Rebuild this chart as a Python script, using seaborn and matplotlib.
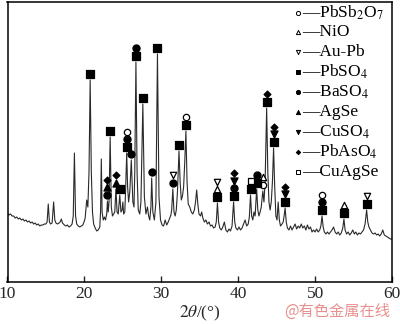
import numpy as np
import pandas as pd
import matplotlib
matplotlib.use("Agg")
import matplotlib.pyplot as plt
import seaborn as sns

# XRD pattern: (2theta in degrees, intensity in arbitrary units)
pattern_points = [
    (10.0, 69), (10.2, 67), (10.4, 68), (10.6, 66), (10.8, 66), (11.0, 64), (11.2, 65),
    (11.4, 63), (11.6, 64), (11.8, 62), (12.0, 63), (12.2, 61), (12.4, 62), (12.6, 60),
    (12.8, 61), (13.0, 59), (13.2, 60), (13.4, 58), (13.6, 59), (13.8, 57), (14.0, 58),
    (14.2, 56), (14.4, 57), (14.6, 57), (14.8, 58), (15.0, 58), (15.15, 60), (15.3, 78),
    (15.45, 60), (15.6, 58), (15.8, 59), (16.0, 80), (16.15, 62), (16.3, 59), (16.5, 58),
    (16.7, 59), (16.85, 60), (17.0, 63), (17.15, 59), (17.4, 57), (17.6, 56), (17.8, 57),
    (18.0, 55), (18.2, 56), (18.4, 58), (18.55, 66), (18.7, 129), (18.85, 66), (19.0, 58),
    (19.2, 56), (19.4, 55), (19.6, 56), (19.8, 57), (19.95, 60), (20.1, 64), (20.3, 82),
    (20.45, 75), (20.6, 110), (20.75, 202), (20.9, 110), (21.05, 70), (21.2, 58), (21.4, 54),
    (21.6, 51), (21.8, 52), (22.0, 55), (22.1, 70), (22.2, 123), (22.3, 70), (22.45, 62),
    (22.6, 65), (22.75, 62), (22.9, 68), (23.0, 81), (23.1, 70), (23.2, 80), (23.35, 145),
    (23.5, 75), (23.65, 66), (23.8, 68), (23.95, 70), (24.1, 93), (24.25, 70), (24.4, 68),
    (24.6, 87), (24.75, 70), (24.9, 72), (25.0, 80), (25.1, 68), (25.25, 70), (25.35, 90),
    (25.5, 129), (25.62, 95), (25.75, 80), (25.9, 90), (26.1, 122), (26.3, 80), (26.45, 75),
    (26.55, 110), (26.7, 220), (26.85, 110), (27.0, 72), (27.2, 68), (27.35, 80), (27.6, 178),
    (27.8, 85), (28.0, 68), (28.2, 75), (28.35, 66), (28.5, 62), (28.65, 75), (28.75, 104),
    (28.9, 70), (29.1, 62), (29.3, 80), (29.5, 228), (29.7, 85), (29.9, 62), (30.1, 57),
    (30.3, 56), (30.5, 62), (30.7, 57), (30.9, 60), (31.1, 64), (31.25, 67), (31.35, 72),
    (31.5, 93), (31.65, 70), (31.8, 66), (31.95, 72), (32.1, 90), (32.3, 131), (32.45, 100),
    (32.6, 82), (32.75, 86), (32.9, 95), (33.05, 120), (33.2, 151), (33.35, 100), (33.5, 78),
    (33.7, 75), (33.9, 70), (34.1, 68), (34.3, 72), (34.45, 80), (34.6, 92), (34.75, 78),
    (34.9, 68), (35.1, 66), (35.25, 70), (35.4, 64), (35.6, 60), (35.8, 62), (36.0, 58),
    (36.2, 60), (36.4, 56), (36.6, 57), (36.8, 54), (37.0, 55), (37.15, 60), (37.3, 79),
    (37.45, 60), (37.6, 54), (37.8, 52), (38.0, 55), (38.2, 60), (38.4, 52), (38.6, 50),
    (38.8, 53), (39.0, 51), (39.2, 56), (39.4, 80), (39.55, 60), (39.7, 54), (39.9, 52),
    (40.1, 55), (40.3, 52), (40.5, 54), (40.7, 58), (40.9, 62), (41.1, 56), (41.3, 58),
    (41.45, 65), (41.6, 87), (41.75, 66), (41.9, 62), (42.05, 70), (42.2, 66), (42.4, 93),
    (42.55, 72), (42.7, 66), (42.85, 70), (43.0, 75), (43.2, 91), (43.35, 80), (43.5, 100),
    (43.7, 174), (43.85, 110), (44.0, 80), (44.15, 72), (44.3, 80), (44.45, 100), (44.6, 134),
    (44.75, 95), (44.9, 66), (45.05, 62), (45.2, 80), (45.35, 62), (45.5, 56), (45.7, 58),
    (45.85, 60), (45.95, 65), (46.1, 74), (46.25, 60), (46.4, 54), (46.6, 52), (46.8, 56),
    (47.0, 52), (47.2, 55), (47.4, 58), (47.6, 53), (47.8, 56), (48.0, 54), (48.2, 58),
    (48.4, 54), (48.6, 56), (48.8, 52), (49.0, 57), (49.2, 53), (49.4, 55), (49.6, 50),
    (49.8, 52), (50.0, 50), (50.2, 53), (50.4, 50), (50.6, 52), (50.75, 56), (50.9, 66),
    (51.05, 55), (51.2, 50), (51.4, 48), (51.6, 50), (51.8, 48), (52.0, 50), (52.2, 52),
    (52.4, 55), (52.6, 50), (52.8, 48), (53.0, 50), (53.2, 47), (53.4, 49), (53.6, 54),
    (53.75, 63), (53.9, 52), (54.1, 48), (54.3, 50), (54.5, 47), (54.7, 49), (54.9, 52),
    (55.1, 48), (55.3, 50), (55.5, 47), (55.7, 49), (55.9, 48), (56.1, 50), (56.3, 52),
    (56.5, 58), (56.7, 72), (56.85, 60), (57.0, 55), (57.2, 52), (57.4, 49), (57.6, 48),
    (57.8, 49), (58.0, 47), (58.2, 48), (58.4, 46), (58.6, 48), (58.8, 52), (59.0, 47),
    (59.2, 46), (59.4, 45), (59.6, 44), (59.8, 43), (60.0, 43),
]

# Phases: legend label, marker shape, filled or open
phase_names = ["PbSb2O7", "NiO", "Au-Pb", "PbSO4", "BaSO4", "AgSe", "CuSO4", "PbAsO4", "CuAgSe"]
phase_labels = ["PbSb$_2$O$_7$", "NiO", "Au-Pb", "PbSO$_4$", "BaSO$_4$", "AgSe",
                "CuSO$_4$", "PbAsO$_4$", "CuAgSe"]
phase_markers = ["o", "^", "v", "s", "o", "^", "v", "D", "s"]
phase_filled = [False, False, False, True, True, True, True, True, False]

# Indexed reflections: peak position and phases stacked from bottom to top
peak_positions = [20.75, 23.0, 23.35, 24.1, 24.6, 25.5, 26.1, 26.7, 27.6, 28.75, 29.5,
                  31.5, 32.3, 33.2, 37.3, 39.4, 41.6, 42.4, 43.2, 43.7, 44.6, 46.1,
                  50.9, 53.75, 56.7]
peak_phases = [
    ["PbSO4"],
    ["BaSO4", "AgSe", "PbAsO4"],
    ["PbSO4"],
    ["AgSe", "PbAsO4"],
    ["PbSO4"],
    ["PbSO4", "BaSO4", "PbSb2O7"],
    ["BaSO4"],
    ["PbSO4", "BaSO4"],
    ["PbSO4"],
    ["BaSO4"],
    ["PbSO4"],
    ["BaSO4", "Au-Pb"],
    ["PbSO4"],
    ["PbSO4", "PbSb2O7"],
    ["PbSO4", "NiO", "Au-Pb"],
    ["PbSO4", "BaSO4", "CuSO4", "PbAsO4"],
    ["PbSO4", "CuAgSe"],
    ["PbSO4", "BaSO4"],
    ["PbSb2O7", "NiO"],
    ["PbSO4", "PbAsO4"],
    ["PbSO4", "CuSO4", "PbAsO4"],
    ["PbSO4", "CuSO4", "PbAsO4"],
    ["PbSO4", "BaSO4", "PbSb2O7"],
    ["PbSO4", "NiO"],
    ["PbSO4", "Au-Pb"],
]

x_ticks = [10, 20, 30, 40, 50, 60]

sns.set_theme(style="ticks")
plt.rcParams["font.family"] = ["Liberation Serif", "DejaVu Serif"]
plt.rcParams["mathtext.fontset"] = "stix"
plt.rcParams["axes.linewidth"] = 1.1

pattern = pd.DataFrame(pattern_points, columns=["two_theta", "intensity"])

fig = plt.figure(figsize=(4.0, 3.24), dpi=100)
ax = fig.add_axes([7.5 / 400, 42 / 324, 384.5 / 400, 280 / 324])

sns.lineplot(data=pattern, x="two_theta", y="intensity", ax=ax,
             color="#2a2a2a", linewidth=0.8, sort=False, estimator=None)

# Phase markers stacked above each indexed peak
marker_sizes = {"o": 26, "s": 26, "^": 26, "v": 26, "D": 12}
rows = []
tt = pattern["two_theta"].to_numpy()
ii = pattern["intensity"].to_numpy()
for pos, phases in zip(peak_positions, peak_phases):
    top = ii[np.abs(tt - pos) <= 0.12].max()
    for k, ph in enumerate(phases):
        rows.append({"two_theta": pos, "y": top + 6.5 + 7.5 * k, "phase": ph})
marks = pd.DataFrame(rows)

for name, mk, filled in zip(phase_names, phase_markers, phase_filled):
    sub = marks[marks["phase"] == name]
    if sub.empty:
        continue
    size = marker_sizes[mk] * (0.8 if not filled else 1.0)
    sns.scatterplot(data=sub, x="two_theta", y="y", ax=ax, marker=mk, s=size,
                    color="black" if filled else "white", edgecolor="black",
                    linewidth=0.9, zorder=5, legend=False)

# Legend: small marker, dash and phase name
for i, (lab, mk, filled) in enumerate(zip(phase_labels, phase_markers, phase_filled)):
    y_ax = 1 - (12.5 + 19.9 * i - 2) / 280
    ax.scatter([0.756], [y_ax], transform=ax.transAxes, marker=mk,
               s=(9 if mk != "D" else 5),
               c="black" if filled else "white", edgecolors="black",
               linewidths=0.7, zorder=6, clip_on=False)
    ax.text(0.766, y_ax, "—" + lab, transform=ax.transAxes, ha="left", va="center",
            fontsize=12.5, color="black")

ax.set_xlim(10, 60)
ax.set_ylim(0, 280)
ax.set_xticks(x_ticks)
ax.set_xticklabels([str(t) for t in x_ticks], fontsize=12.5)
ax.set_yticks([])
ax.tick_params(axis="x", direction="in", length=4, width=1.0, pad=3, top=False)
ax.set_xlabel(r"$\mathit{2\theta}$/(°)", fontsize=12.5, labelpad=1)
ax.set_ylabel("")
for side in ["top", "right", "left", "bottom"]:
    ax.spines[side].set_visible(True)
    ax.spines[side].set_color("black")

fig.text(0.975, 0.04, "@有色金属在线", ha="right", va="center", fontsize=11,
         color="#e8908f", family=["Noto Sans CJK SC", "DejaVu Sans"])

fig.savefig("out.png", dpi=100)
